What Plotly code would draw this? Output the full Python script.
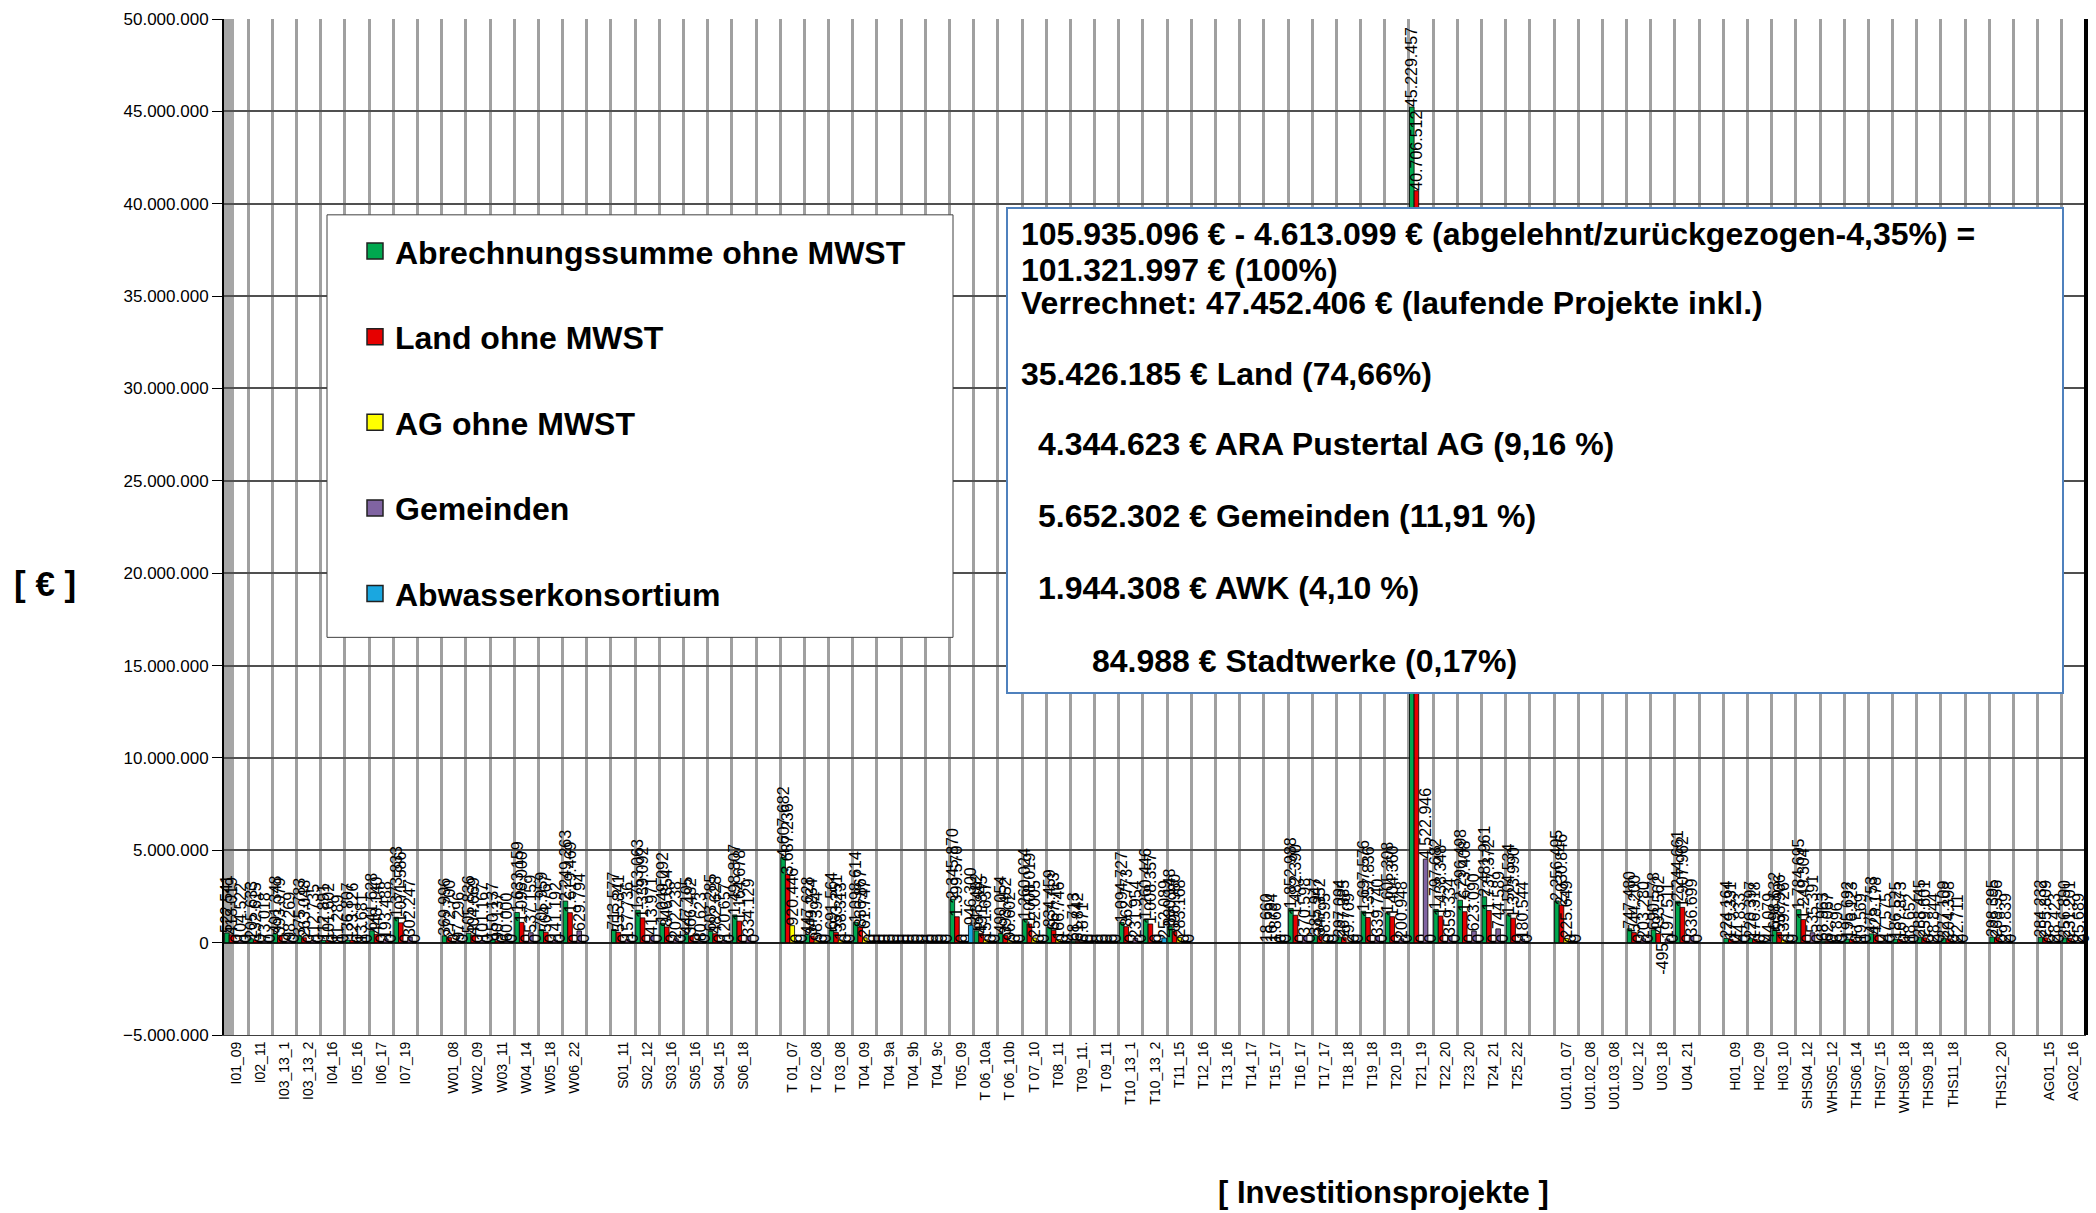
import plotly.graph_objects as go

categories = ["I01_09","I02_11","I03_13_1","I03_13_2","I04_16","I05_16","I06_17","I07_19"," ",
"W01_08","W02_09","W03_11","W04_14","W05_18","W06_22","  ",
"S01_11","S02_12","S03_16","S05_16","S04_15","S06_18","   ",
"T 01_07","T 02_08","T 03_08","T04_09","T04_9a","T04_9b","T04_9c","T05_09","T 06_10a","T 06_10b","T 07_10","T08_11","T09_11.","T 09_11","T10_13_1","T10_13_2","T11_15","T12_16","T13_16","T14_17","T15_17","T16_17","T17_17","T18_18","T19_18","T20_19","T21_19","T22_20","T23_20","T24_21","T25_22","    ",
"U01.01_07","U01.02_08","U01.03_08","U02_12","U03_18","U04_21","     ",
"H01_09","H02_09","H03_10","SHS04_12","WHS05_12","THS06_14","THS07_15","WHS08_18","THS09_18","THS11_18","      ",
"THS12_20","       ","AG01_15","AG02_16"]

N = None
abrechnung = [522541,205633,491348,375783,112891,136807,641628,1373833,N,
 369996,505836,150137,1633159,705959,2249263,N,
 713577,1753063,1049092,447105,603285,1498807,N,
 4607682,447628,691564,1098614,0,0,0,2345870,643482,490054,1260024,834459,68713,0,1094727,1260446,880148,N,N,N,18660,1852988,385947,297094,1697576,1605308,45229457,1797682,2296498,2481961,1504534,N,
 2256495,N,N,747480,690578,2244661,N,
 224164,220397,698632,1784695,68963,195692,475753,186525,288445,227109,N,
 298395,N,284232,256890]
land = [418019,132615,393079,263048,101602,123126,448140,1071586,N,
 272700,404669,90137,1096000,564767,1619469,N,
 555841,1339092,846854,366482,482628,1164678,N,
 3687236,349234,553251,836867,0,0,0,1399570,491845,393452,1008019,667713,61842,0,862773,1008357,596980,N,N,N,16794,1482390,347352,267385,1357836,1404360,40706512,1438348,1673408,1737372,1323990,N,
 2030846,N,N,544200,493562,1907962,N,
 179331,176318,558906,1249304,62067,176123,428178,167873,259601,204398,N,
 268556,N,255809,231201]
ag = [0,0,0,0,0,0,0,0,N,
 0,0,0,0,0,0,N,
 0,0,0,0,0,0,N,
 920446,98394,138313,261747,0,0,0,0,151637,96602,252005,166746,6871,0,0,0,283168,N,N,N,1866,0,38595,29709,0,0,0,0,0,0,0,N,
 225649,N,N,0,-495,0,N,
 0,0,139726,0,0,0,0,0,0,0,N,
 0,N,0,0]
gemeinden = [104522,73018,98269,112735,11289,13681,193488,302247,N,
 97296,101167,60000,537159,141192,629794,N,
 157736,413971,202238,80623,120657,334129,N,
 0,0,0,0,0,0,0,0,0,0,0,0,0,0,231954,0,0,N,N,N,0,370598,0,0,339740,200948,4522946,359334,623090,744589,180544,N,
 0,N,N,203280,197511,336699,N,
 44833,0,0,535391,6896,19569,47575,18652,28844,22711,N,
 29839,N,28423,25689]
konsortium = [0,0,0,0,0,0,0,0,N,
 0,0,0,0,0,0,N,
 0,0,0,0,0,0,N,
 0,0,0,0,0,0,0,946300,0,0,0,0,0,0,0,252089,0,N,N,N,0,0,0,0,0,0,0,0,0,0,0,N,
 0,N,N,0,0,0,N,
 0,44079,0,0,0,0,0,0,0,0,N,
 0,N,0,0]

series_names = ["Abrechnungssumme ohne MWST","Land ohne MWST","AG ohne MWST","Gemeinden","Abwasserkonsortium"]
series_values = [abrechnung, land, ag, gemeinden, konsortium]
series_colors = ["#00a84f","#e60000","#ffff00","#8064a2","#1aa7e0"]

box_lines = ["105.935.096 € - 4.613.099 € (abgelehnt/zurückgezogen-4,35%) =",
             "101.321.997 € (100%)",
             "Verrechnet: 47.452.406 € (laufende Projekte inkl.)",
             "35.426.185 € Land (74,66%)",
             "4.344.623 € ARA Pustertal AG (9,16 %)",
             "5.652.302 € Gemeinden (11,91 %)",
             "1.944.308 € AWK (4,10 %)",
             "84.988 € Stadtwerke (0,17%)"]

W, H = 2096, 1213
L, R, T, B = 224, 10, 13, 178
PW, PH = W - L - R, H - T - B
def px(x): return (x - L) / PW
def py(y): return (H - B - y) / PH

def fmt(v):
    if v is None:
        return ""
    return f"{v:,}".replace(",", ".")

FONT = "Arial, Liberation Sans, sans-serif"

fig = go.Figure()
for i, (name, vals, col) in enumerate(zip(series_names, series_values, series_colors)):
    fig.add_trace(go.Bar(
        x=categories, y=vals, name=name, legendgroup=f"g{i}", showlegend=False,
        marker=dict(color=col, line=dict(color="#000000", width=0.8)),
        text=[fmt(v) for v in vals], textposition="outside", textangle=-90,
        constraintext="none", cliponaxis=False,
        textfont=dict(family=FONT, size=16, color="#000000"),
    ))
# legend entries (square swatches like the original)
for i, (name, col) in enumerate(zip(series_names, series_colors)):
    fig.add_trace(go.Scatter(
        x=[None], y=[None], mode="markers", name=name, legendgroup=f"g{i}",
        marker=dict(symbol="square", size=17, color=col, line=dict(color="#202020", width=1.5)),
        showlegend=True, hoverinfo="skip",
    ))

shapes = [
    dict(type="rect", xref="paper", yref="paper", x0=0, x1=px(234), y0=0, y1=1,
         fillcolor="#a6a6a6", line=dict(width=0), layer="between"),
    dict(type="line", xref="paper", yref="paper", x0=1.0, x1=1.0, y0=0, y1=1,
         line=dict(color="#000000", width=4), layer="above"),
    dict(type="rect", xref="paper", yref="paper", x0=px(327), x1=px(953), y0=py(635), y1=py(210),
         fillcolor="#ffffff", line=dict(color="#404040", width=1), layer="above"),
    dict(type="rect", xref="paper", yref="paper", x0=px(1007), x1=px(2063), y0=py(691), y1=py(203),
         fillcolor="#ffffff", line=dict(color="#4f81bd", width=2), layer="above"),
]

line_pos = [(1019, 229), (1019, 265), (1019, 299), (1019, 370), (1036, 441), (1036, 513), (1036, 585), (1090, 659)]
annotations = []
for txt, (x, y) in zip(box_lines, line_pos):
    annotations.append(dict(text=txt, xref="paper", yref="paper", x=px(x), y=py(y),
                            xanchor="left", yanchor="middle", showarrow=False,
                            font=dict(family=FONT, size=32, color="#000000", weight="bold")))
annotations.append(dict(text="[ Investitionsprojekte ]", xref="paper", yref="paper", x=px(1383), y=py(1193),
                        xanchor="center", yanchor="middle", showarrow=False,
                        font=dict(family=FONT, size=31, color="#000000", weight="bold")))
annotations.append(dict(text="[ € ]", xref="paper", yref="paper", x=px(45), y=py(581),
                        xanchor="center", yanchor="middle", showarrow=False,
                        font=dict(family=FONT, size=35, color="#000000", weight="bold")))

fig.update_layout(
    width=W, height=H, margin=dict(l=L, r=R, t=T, b=B),
    paper_bgcolor="#ffffff", plot_bgcolor="#ffffff",
    separators=",.",
    barmode="group", bargap=0.05, bargroupgap=0,
    showlegend=True,
    legend=dict(x=px(355), y=py(219), xanchor="left", yanchor="top",
                bgcolor="rgba(0,0,0,0)", borderwidth=0,
                font=dict(family=FONT, size=32, color="#000000", weight="bold"),
                tracegroupgap=41, traceorder="grouped", itemsizing="trace"),
    shapes=shapes, annotations=annotations,
    xaxis=dict(type="category", categoryorder="array", categoryarray=categories,
               range=[-0.5, len(categories) - 0.5],
               tickson="boundaries", showgrid=True, gridcolor="#a0a0a0", gridwidth=2.5,
               ticks="", tickangle=-90, tickfont=dict(family=FONT, size=14, color="#000000"),
               showline=True, linecolor="#404040", linewidth=1, mirror=False),
    yaxis=dict(range=[-5000000, 50000000], dtick=5000000, tickformat=",d",
               showgrid=True, gridcolor="#505050", gridwidth=1.5,
               zeroline=True, zerolinecolor="#202020", zerolinewidth=2,
               ticks="outside", ticklen=10, tickcolor="#000000",
               showline=True, linecolor="#000000", linewidth=2,
               tickfont=dict(family=FONT, size=17, color="#000000")),
)

fig.write_html("out.html", config={"displayModeBar": False},
               post_script="document.body.style.margin='0';")
